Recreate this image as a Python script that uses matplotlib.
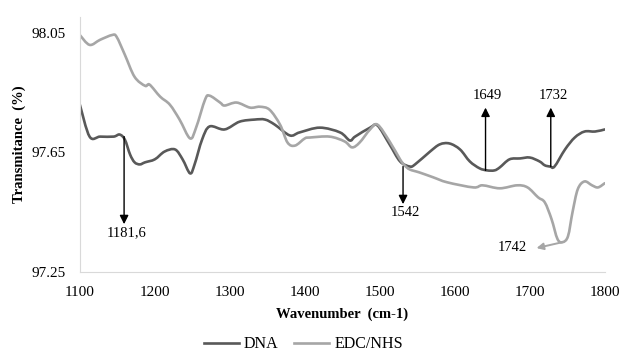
import matplotlib.pyplot as plt
from matplotlib.path import Path
from matplotlib.patches import PathPatch
from matplotlib.lines import Line2D

plt.rcParams['font.family'] = ['Liberation Serif', 'DejaVu Serif']
plt.rcParams['font.size'] = 10.5

# Espectro DNA
wn_dna = [1100, 1113, 1127, 1145, 1153, 1160, 1167, 1173, 1180, 1187, 1200,
          1213, 1227, 1237, 1247, 1253, 1263, 1273, 1293, 1313, 1333, 1347,
          1360, 1380, 1393, 1420, 1447, 1460, 1467, 1487, 1497, 1513, 1527,
          1540, 1547, 1567, 1580, 1593, 1607, 1620, 1633, 1643, 1653, 1660,
          1673, 1687, 1700, 1713, 1720, 1727, 1733, 1747, 1760, 1773, 1787,
          1800]
t_dna = [97.81, 97.703, 97.703, 97.703, 97.71, 97.693, 97.643, 97.617, 97.61,
         97.617, 97.627, 97.653, 97.66, 97.627, 97.58, 97.61, 97.693, 97.737,
         97.727, 97.753, 97.76, 97.76, 97.743, 97.707, 97.717, 97.733, 97.717,
         97.69, 97.703, 97.733, 97.74, 97.677, 97.62, 97.603, 97.61, 97.653,
         97.677, 97.68, 97.66, 97.62, 97.597, 97.59, 97.59, 97.6, 97.627,
         97.63, 97.633, 97.62, 97.607, 97.603, 97.603, 97.66, 97.7, 97.72,
         97.72, 97.727]

# Espectro EDC/NHS
wn_edc = [1100, 1113, 1127, 1143, 1149, 1160, 1173, 1187, 1193, 1207, 1220,
          1233, 1247, 1255, 1267, 1273, 1287, 1293, 1309, 1327, 1340, 1353,
          1367, 1377, 1387, 1400, 1407, 1433, 1453, 1463, 1473, 1487, 1497,
          1513, 1527, 1533, 1540, 1553, 1571, 1590, 1625, 1637, 1660, 1683,
          1697, 1711, 1720, 1729, 1737, 1744, 1751, 1757, 1764, 1773, 1783,
          1791, 1800]
t_edc = [98.043, 98.01, 98.027, 98.043, 98.037, 97.977, 97.903, 97.873,
         97.877, 97.837, 97.81, 97.76, 97.697, 97.733, 97.827, 97.84, 97.817,
         97.807, 97.817, 97.8, 97.803, 97.793, 97.743, 97.683, 97.673, 97.697,
         97.7, 97.703, 97.687, 97.667, 97.683, 97.727, 97.743, 97.687, 97.627,
         97.607, 97.593, 97.583, 97.567, 97.55, 97.533, 97.54, 97.53, 97.54,
         97.533, 97.5, 97.483, 97.427, 97.36, 97.35, 97.37, 97.45, 97.527,
         97.553, 97.54, 97.533, 97.547]

# picos: rótulo, x, y inicial, y da ponta, y do texto
picos = [('1181,6', 1159, 97.703, 97.41, 97.383),
         ('1542', 1531, 97.603, 97.477, 97.45),
         ('1649', 1641, 97.59, 97.80, 97.84),
         ('1732', 1728, 97.603, 97.80, 97.84)]


def linha_suave(ax, xs, ys, cor):
    # curva suavizada (estilo Excel) com segmentos de Bezier
    verts = [(xs[0], ys[0])]
    codes = [Path.MOVETO]
    n = len(xs)
    for i in range(n - 1):
        x0, y0 = (xs[i - 1], ys[i - 1]) if i > 0 else (xs[i], ys[i])
        x3, y3 = (xs[i + 2], ys[i + 2]) if i + 2 < n else (xs[i + 1], ys[i + 1])
        c1 = (xs[i] + (xs[i + 1] - x0) / 6, ys[i] + (ys[i + 1] - y0) / 6)
        c2 = (xs[i + 1] - (x3 - xs[i]) / 6, ys[i + 1] - (y3 - ys[i]) / 6)
        verts += [c1, c2, (xs[i + 1], ys[i + 1])]
        codes += [Path.CURVE4] * 3
    ax.add_patch(PathPatch(Path(verts, codes), fill=False, edgecolor=cor,
                           lw=1.9, capstyle='round', joinstyle='round'))


fig = plt.figure(figsize=(6.19, 3.56), dpi=100)
ax = fig.add_axes([0.129, 0.236, 0.848, 0.716])

linha_suave(ax, wn_dna, t_dna, '#595959')
linha_suave(ax, wn_edc, t_edc, '#a6a6a6')

for txt, x, y0, y1, yt in picos:
    ax.annotate('', xy=(x, y1), xytext=(x, y0),
                arrowprops=dict(arrowstyle='-|>', color='black', lw=1.0,
                                mutation_scale=13, shrinkA=0, shrinkB=0))
    ax.text(x + 3, yt, txt, ha='center', va='center', fontsize=10.5)

ax.annotate('', xy=(1709, 97.33), xytext=(1744, 97.35),
            arrowprops=dict(arrowstyle='-|>', color='#a6a6a6', lw=1.4,
                            mutation_scale=10, shrinkA=0, shrinkB=0))
ax.text(1677, 97.333, '1742', ha='center', va='center', fontsize=10.5)

ax.set_xlim(1100, 1800)
ax.set_ylim(97.25, 98.103)
ax.set_xticks([1100, 1200, 1300, 1400, 1500, 1600, 1700, 1800])
ax.set_yticks([97.25, 97.65, 98.05])
ax.set_yticklabels(['97.25', '97.65', '98.05'])
ax.tick_params(length=0, pad=10, labelsize=11)
for s in ['top', 'right']:
    ax.spines[s].set_visible(False)
for s in ['left', 'bottom']:
    ax.spines[s].set_color('#d9d9d9')

ax.set_xlabel('Wavenumber  (cm-1)', fontweight='bold', fontsize=10.5, labelpad=6)
ax.set_ylabel('Transmitance  (%)', fontweight='bold', fontsize=10.5, labelpad=4)

handles = [Line2D([], [], color='#595959', lw=1.9),
           Line2D([], [], color='#a6a6a6', lw=1.9)]
fig.legend(handles, ['DNA', 'EDC/NHS'], loc='lower center',
           bbox_to_anchor=(0.49, -0.03), ncol=2, frameon=False,
           handlelength=2.2, handletextpad=0.3, columnspacing=1.0,
           fontsize=11.5)

fig.savefig('out.png', dpi=100)
